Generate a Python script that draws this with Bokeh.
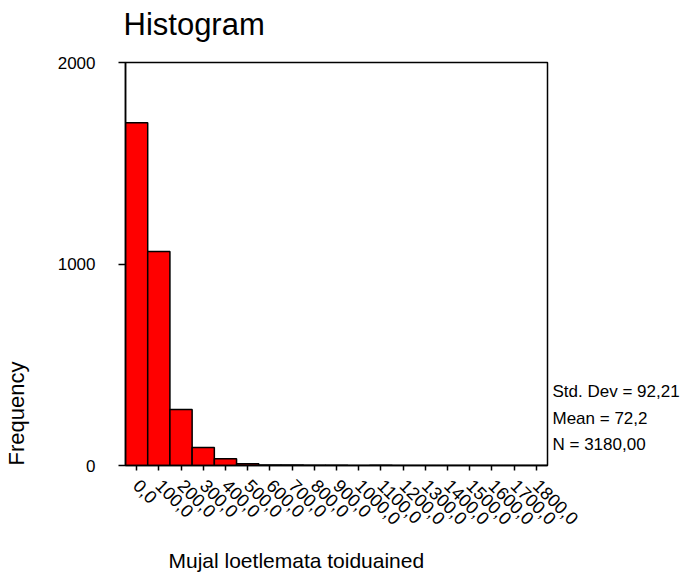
import math
from bokeh.plotting import figure
from bokeh.models import Range1d, FixedTicker, LinearAxis, Title
from bokeh.embed import file_html
from bokeh.resources import INLINE

# ---- data ----
bin_centers = [0, 100, 200, 300, 400, 500, 600, 700, 800, 900,
               1000, 1100, 1200, 1300, 1400, 1500, 1600, 1700, 1800]
counts = [1701, 1062, 278, 89, 33, 9, 3, 2, 1, 1,
          0, 1, 0, 0, 0, 0, 0, 0, 0]
bin_width = 100
x_tick_labels = ["0,0", "100,0", "200,0", "300,0", "400,0", "500,0", "600,0",
                 "700,0", "800,0", "900,0", "1000,0", "1100,0", "1200,0",
                 "1300,0", "1400,0", "1500,0", "1600,0", "1700,0", "1800,0"]
y_ticks = [0, 1000, 2000]
y_tick_labels = ["0", "1000", "2000"]
title_text = "Histogram"
x_title = "Mujal loetlemata toiduained"
y_title = "Frequency"
stats = ["Std. Dev = 92,21", "Mean = 72,2", "N = 3180,00"]

FONT = "Liberation Sans"
# vertical anchor (in count units) of each statistics line at the right
stats_anchor = [365, 234, 102]

p = figure(width=684, height=575, output_backend="svg", toolbar_location=None,
           x_range=Range1d(-50, 1850), y_range=Range1d(0, 2000),
           min_border_left=125, min_border_right=137,
           min_border_top=62, min_border_bottom=110)
p.title.visible = False
p.grid.visible = False
p.background_fill_color = "white"
p.border_fill_color = "white"
p.outline_line_color = "black"
p.outline_line_width = 1.5

left = [c - bin_width / 2 for c in bin_centers]
right = [c + bin_width / 2 for c in bin_centers]
p.quad(left=left, right=right, top=counts, bottom=0,
       fill_color="#FF0000", line_color="black", line_width=1.5)

# x axis
xa = p.xaxis[0]
xa.ticker = FixedTicker(ticks=bin_centers)
xa.major_label_overrides = {c: t for c, t in zip(bin_centers, x_tick_labels)}
xa.major_label_orientation = -math.pi / 4
xa.major_label_text_font = FONT
xa.major_label_text_font_size = "18px"
xa.major_label_text_color = "black"
xa.major_label_standoff = 12
xa.major_tick_out = 5
xa.major_tick_in = 0
xa.minor_tick_out = 0
xa.minor_tick_in = 0
xa.axis_line_width = 1.5
xa.major_tick_line_width = 1.5
xa.axis_line_color = "black"

# y axis
ya = p.yaxis[0]
ya.ticker = FixedTicker(ticks=y_ticks)
ya.major_label_overrides = {v: t for v, t in zip(y_ticks, y_tick_labels)}
ya.major_label_text_font = FONT
ya.major_label_text_font_size = "17px"
ya.major_label_text_color = "black"
ya.major_label_standoff = 23
ya.major_tick_out = 7
ya.major_tick_in = 0
ya.minor_tick_out = 0
ya.minor_tick_in = 0
ya.axis_line_width = 1.5
ya.major_tick_line_width = 1.5
ya.axis_line_color = "black"

# statistics block on the right (axis without lines)
sa = LinearAxis(ticker=FixedTicker(ticks=stats_anchor),
                major_label_overrides={v: t for v, t in zip(stats_anchor, stats)},
                axis_line_color=None, major_tick_line_color=None,
                minor_tick_line_color=None, major_tick_out=0, major_tick_in=0,
                minor_tick_out=0, minor_tick_in=0, major_label_standoff=5,
                major_label_text_font=FONT, major_label_text_font_size="17px",
                major_label_text_color="black")
p.add_layout(sa, "right")


def spacer(size, tick):
    """An axis with one invisible tick and no label: it only reserves space."""
    return LinearAxis(ticker=FixedTicker(ticks=[tick]),
                      major_label_overrides={tick: ""},
                      axis_line_color=None,
                      major_tick_line_color=None, minor_tick_line_color=None,
                      major_tick_out=size, major_tick_in=0, minor_tick_out=0,
                      minor_tick_in=0, major_label_standoff=0)


# titles (each separated from the frame by a spacer axis)
p.add_layout(spacer(21, 900), "above")
p.add_layout(Title(text=title_text, align="left", offset=-2, standoff=0,
                   text_font=FONT, text_font_size="31px", text_font_style="normal",
                   text_color="black"), "above")

p.add_layout(spacer(13, 900), "below")
p.add_layout(Title(text=x_title, align="left", offset=43, standoff=0,
                   text_font=FONT, text_font_size="21px", text_font_style="normal",
                   text_color="black"), "below")

p.add_layout(spacer(26, 1000), "left")
p.add_layout(Title(text=y_title, align="left", offset=0, standoff=0,
                   text_font=FONT, text_font_size="22px", text_font_style="normal",
                   text_color="black"), "left")

open("out.html", "w").write(file_html(p, INLINE))
